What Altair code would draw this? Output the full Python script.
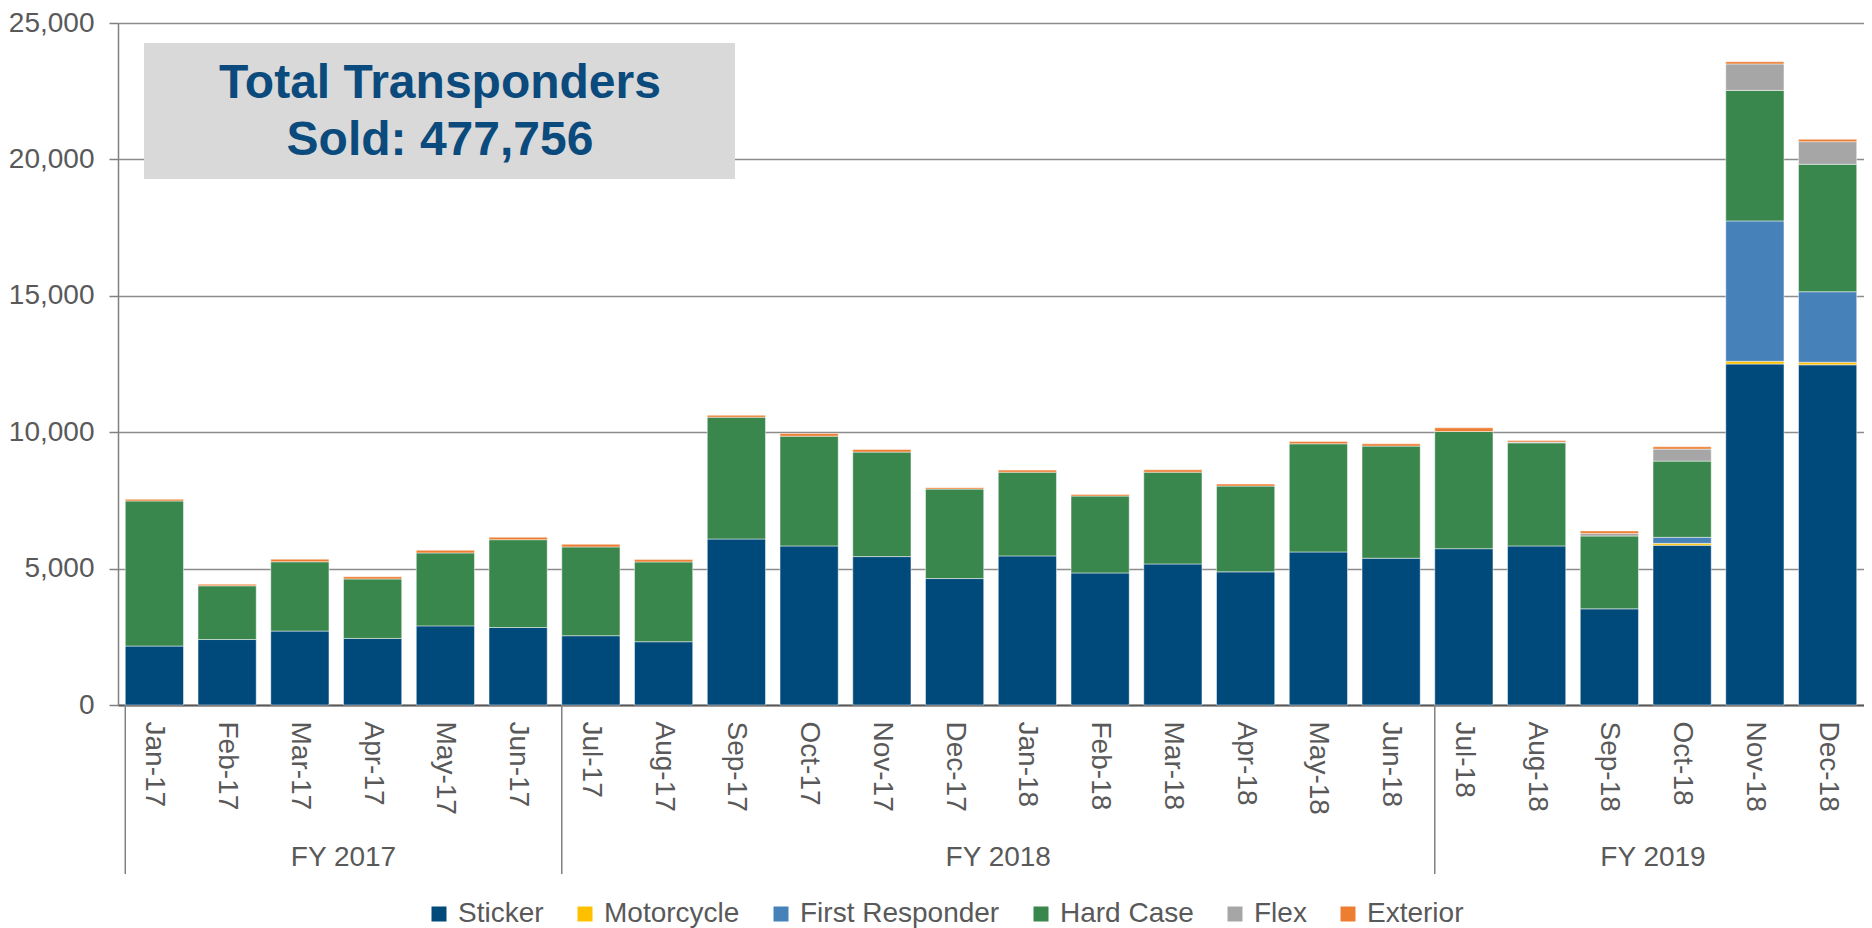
import altair as alt
import pandas as pd

months = ["Jan-17", "Feb-17", "Mar-17", "Apr-17", "May-17", "Jun-17",
          "Jul-17", "Aug-17", "Sep-17", "Oct-17", "Nov-17", "Dec-17",
          "Jan-18", "Feb-18", "Mar-18", "Apr-18", "May-18", "Jun-18",
          "Jul-18", "Aug-18", "Sep-18", "Oct-18", "Nov-18", "Dec-18"]

sticker = [2160, 2400, 2710, 2440, 2900, 2840, 2540, 2320, 6085, 5830, 5440, 4635,
           5465, 4840, 5170, 4880, 5610, 5380, 5730, 5830, 3525, 5855, 12500, 12470]
motorcycle = [0, 0, 0, 0, 0, 0, 0, 0, 0, 0, 0, 0,
              0, 0, 0, 0, 0, 0, 0, 0, 0, 70, 100, 95]
first_responder = [0, 0, 0, 0, 0, 0, 0, 0, 0, 0, 0, 0,
                   0, 0, 0, 0, 0, 0, 0, 0, 0, 220, 5145, 2585]
hard_case = [5320, 1970, 2540, 2180, 2675, 3220, 3255, 2925, 4465, 4025, 3830, 3280,
             3070, 2820, 3365, 3145, 3965, 4110, 4295, 3780, 2670, 2795, 4785, 4670]
flex = [0, 0, 0, 0, 0, 0, 0, 0, 0, 0, 0, 0,
        0, 0, 0, 0, 0, 0, 0, 30, 95, 440, 970, 830]
exterior = [60, 60, 95, 80, 95, 90, 95, 85, 70, 95, 95, 50,
            75, 60, 85, 75, 85, 85, 135, 55, 90, 85, 80, 85]

series = ["Sticker", "Motorcycle", "First Responder", "Hard Case", "Flex", "Exterior"]
colors = ["#00497B", "#FFC000", "#4682B9", "#3A874D", "#A6A6A6", "#ED7D31"]

fy_months = ["Apr-17", "Jan-18", "Oct-18"]
fy_labels = ["FY 2017", "FY 2018", "FY 2019"]
sep_months = ["Jan-17", "Jul-17", "Jul-18"]

title_lines = ["Total Transponders", "Sold: 477,756"]

rows = []
all_vals = [sticker, motorcycle, first_responder, hard_case, flex, exterior]
for i, m in enumerate(months):
    for k, (s, vals) in enumerate(zip(series, all_vals)):
        if vals[i] > 0:
            rows.append({"month": m, "type": s, "value": vals[i], "k": k})
df = pd.DataFrame(rows)
fy_df = pd.DataFrame({"month": fy_months, "label": fy_labels})
sep_df = pd.DataFrame({"month": sep_months})

W, H = 1746, 682
FONT = "Liberation Sans"
GRAY = "#595959"

xscale = alt.Scale(domain=months, paddingInner=0.2, paddingOuter=0.1)
xaxis = alt.Axis(title=None, labelAngle=90, labelFontSize=28, labelColor=GRAY,
                 labelFont=FONT, ticks=False, labelPadding=16,
                 domainColor=GRAY, domainWidth=2, grid=False)

bars = alt.Chart(df).mark_bar(stroke="white", strokeWidth=0.8, strokeOpacity=0.6).encode(
    x=alt.X("month:N", sort=months, scale=xscale, axis=xaxis),
    y=alt.Y("value:Q", stack="zero",
            scale=alt.Scale(domain=[0, 25000], nice=False),
            axis=alt.Axis(title=None, values=[0, 5000, 10000, 15000, 20000, 25000],
                          format=",.0f", labelFontSize=28, labelColor=GRAY, labelFont=FONT,
                          labelPadding=15, tickSize=9, tickColor="#808080", tickWidth=1.5,
                          domainColor="#808080", domainWidth=1.5,
                          gridColor="#8C8C8C", gridWidth=1.5)),
    color=alt.Color("type:N", scale=alt.Scale(domain=series, range=colors),
                    legend=alt.Legend(title=None, orient="none", direction="horizontal",
                                      columns=6, legendX=307, legendY=877,
                                      symbolType="square", symbolSize=225,
                                      symbolStrokeWidth=0, labelFontSize=28,
                                      labelColor=GRAY, labelFont=FONT, labelLimit=0,
                                      labelOffset=5, columnPadding=27)),
    order=alt.Order("k:Q", sort="ascending"),
)

seps = alt.Chart(sep_df).mark_rule(color="#808080", strokeWidth=1.5).encode(
    x=alt.X("month:N", sort=months, scale=xscale, bandPosition=0, axis=xaxis),
    y=alt.value(H),
    y2=alt.value(851),
)

fy = alt.Chart(fy_df).mark_text(fontSize=28, color=GRAY, font=FONT, baseline="middle").encode(
    x=alt.X("month:N", sort=months, scale=xscale, bandPosition=0, axis=xaxis),
    y=alt.value(835),
    text="label:N",
)

box = alt.Chart(pd.DataFrame({"a": [1]})).mark_rect(color="#D9D9D9").encode(
    x=alt.value(26), x2=alt.value(617), y=alt.value(20), y2=alt.value(156),
)

title = alt.Chart(pd.DataFrame({"a": [1]})).mark_text(
    fontSize=48, fontWeight="bold", font=FONT, color="#0B4A7C",
    align="center", baseline="middle", lineHeight=57,
).encode(
    x=alt.value(322), y=alt.value(61), text=alt.value(title_lines),
)

chart = alt.layer(bars, seps, fy, box, title).properties(
    width=W, height=H,
    padding={"left": 0, "top": 1, "right": 0, "bottom": 0},
).configure_view(stroke=None).configure(font=FONT)

chart.save("out.html", embed_options={"renderer": "svg", "actions": False})
